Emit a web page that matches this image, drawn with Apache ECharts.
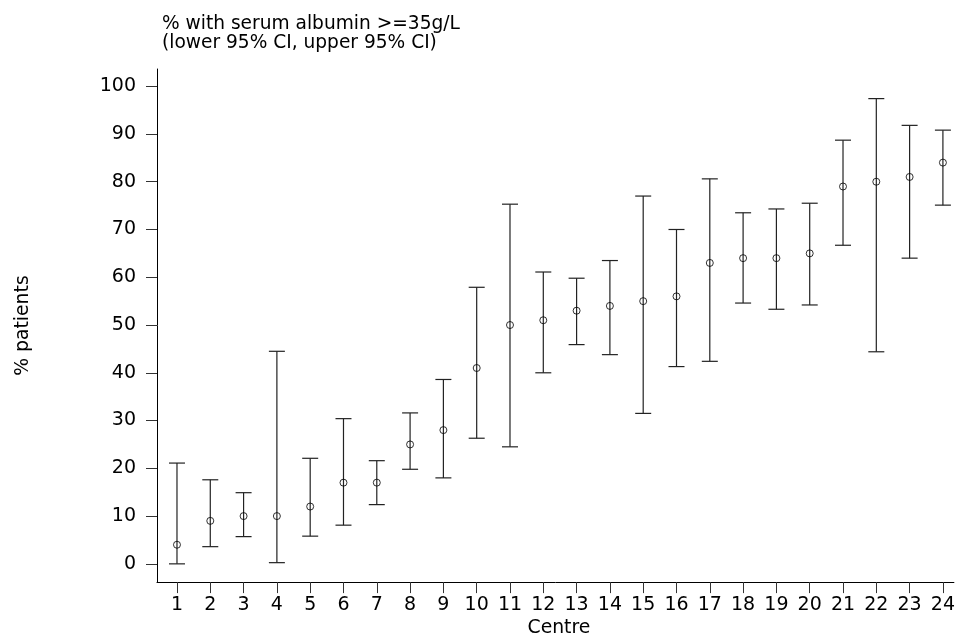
<!DOCTYPE html>
<html>
<head>
<meta charset="utf-8">
<script src="https://cdn.jsdelivr.net/npm/echarts@6/dist/echarts.min.js"></script>
<style>
html,body{margin:0;padding:0;background:#fff;}
#chart{width:958px;height:643px;}
</style>
</head>
<body>
<div id="chart"></div>
<script>
const centres = [1,2,3,4,5,6,7,8,9,10,11,12,13,14,15,16,17,18,19,20,21,22,23,24];
const pct     = [4,9,10,10,12,17,17,25,28,41,50,51,53,54,55,56,63,64,64,65,79,80,81,84];
const lower   = [0,3.6,5.7,0.25,5.8,8.1,12.4,19.8,18.0,26.3,24.5,40.0,45.9,43.8,31.5,41.3,42.4,54.6,53.3,54.2,66.7,44.4,64.0,75.1];
const upper   = [21.1,17.6,14.9,44.5,22.1,30.4,21.6,31.6,38.6,57.9,75.3,61.1,59.8,63.5,77.0,70.0,80.6,73.5,74.3,75.5,88.7,97.4,91.8,90.8];
const yTicks  = [0,10,20,30,40,50,60,70,80,90,100];

const FONT = 'DejaVu Sans';
const chart = echarts.init(document.getElementById('chart'), null, {renderer:'canvas'});

const ciData = centres.map((c,i)=>[c, lower[i], upper[i]]);
const ptData = centres.map((c,i)=>[c, pct[i]]);

chart.setOption({
  animation:false,
  backgroundColor:'#fff',
  textStyle:{fontFamily:FONT,color:'#000'},
  title:{
    text:'% with serum albumin >=35g/L\n(lower 95% CI, upper 95% CI)',
    left:157, top:10,
    textStyle:{fontFamily:FONT,fontSize:18.6,lineHeight:18.6,fontWeight:'normal',color:'#000'}
  },
  grid:{left:157,right:1,top:69,bottom:56.3,containLabel:false},
  xAxis:{
    type:'value', min:0.4, max:24.33,
    name:'Centre', nameLocation:'middle', nameGap:33,
    nameTextStyle:{fontFamily:FONT,fontSize:18.8,color:'#000',padding:[0,0,0,7]},
    axisLine:{show:true,onZero:false,lineStyle:{color:'#000',width:1}},
    axisTick:{show:true,length:11,customValues:centres,lineStyle:{color:'#333',width:1}},
    axisLabel:{customValues:centres,margin:13,fontFamily:FONT,fontSize:19,color:'#000'},
    splitLine:{show:false}
  },
  yAxis:{
    type:'value', min:-3.82, max:103.6,
    name:'% patients', nameLocation:'middle', nameGap:124, nameRotate:90,
    nameTextStyle:{fontFamily:FONT,fontSize:18.8,color:'#000'},
    axisLine:{show:true,onZero:false,lineStyle:{color:'#000',width:1}},
    axisTick:{show:true,length:11,customValues:yTicks,lineStyle:{color:'#333',width:1}},
    axisLabel:{customValues:yTicks,margin:21,fontFamily:FONT,fontSize:19,color:'#000'},
    splitLine:{show:false}
  },
  series:[
    {
      type:'custom',
      data:ciData,
      encode:{x:0,y:[1,2]},
      renderItem:function(params, api){
        const x = api.value(0);
        const pLo = api.coord([x, api.value(1)]);
        const pHi = api.coord([x, api.value(2)]);
        const hw = 8;
        const st = {stroke:'#222', lineWidth:1.2};
        return {type:'group', children:[
          {type:'line', shape:{x1:pLo[0],y1:pLo[1],x2:pHi[0],y2:pHi[1]}, style:st},
          {type:'line', shape:{x1:pHi[0]-hw,y1:pHi[1],x2:pHi[0]+hw,y2:pHi[1]}, style:st},
          {type:'line', shape:{x1:pLo[0]-hw,y1:pLo[1],x2:pLo[0]+hw,y2:pLo[1]}, style:st}
        ]};
      },
      z:2
    },
    {
      type:'scatter',
      data:ptData,
      symbol:'circle',
      symbolSize:7,
      itemStyle:{color:'rgba(0,0,0,0)',borderColor:'#000',borderWidth:1},
      z:3
    }
  ]
});
</script>
</body>
</html>
